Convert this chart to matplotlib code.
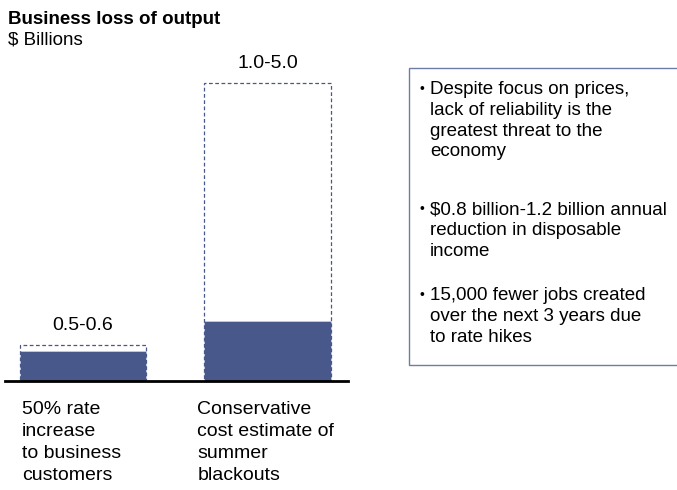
import matplotlib.pyplot as plt
from matplotlib.patches import Rectangle

plt.rcParams['font.family'] = ['Liberation Sans', 'DejaVu Sans']

# Loss estimates, $ billions
categories = ['50% rate\nincrease\nto business\ncustomers',
              'Conservative\ncost estimate of\nsummer\nblackouts']
low_values = [0.5, 1.0]
high_values = [0.6, 5.0]
range_labels = ['0.5-0.6', '1.0-5.0']

bullets = [
    'Despite focus on prices,\nlack of reliability is the\ngreatest threat to the\neconomy',
    '$0.8 billion-1.2 billion annual\nreduction in disposable\nincome',
    '15,000 fewer jobs created\nover the next 3 years due\nto rate hikes',
]

W, H = 677, 490
bar_color = '#48588a'

fig = plt.figure(figsize=(W / 100, H / 100), dpi=100)
fig.set_facecolor('white')

# axes spans the baseline (y=381px) to the top of the tallest range (y=83px)
ax = fig.add_axes([5 / W, (H - 381) / H, 343 / W, (381 - 83) / H])
ax.set_xlim(-0.4228, 1.4363)
ax.set_ylim(0, 5.0)
ax.axis('off')

x = [0, 1]
bw = 0.683
ax.bar(x, low_values, width=bw, color=bar_color, edgecolor='#c8cde0', linewidth=0.6)
ax.bar(x, high_values, width=bw, fill=False, edgecolor=bar_color,
       linestyle=(0, (3, 2)), linewidth=0.9, clip_on=False)
ax.axhline(0, color='black', linewidth=2, clip_on=False)

for xi, hv, lab in zip(x, high_values, range_labels):
    ax.annotate(lab, xy=(xi, hv), xytext=(0, 15), textcoords='offset pixels',
                ha='center', va='baseline', fontsize=14, annotation_clip=False)

label_dx = [2, -7]
for xi, cat, dx in zip(x, categories, label_dx):
    ax.annotate(cat, xy=(xi - bw / 2, 0), xytext=(dx, -20), textcoords='offset pixels',
                ha='left', va='top', fontsize=14, linespacing=1.38,
                annotation_clip=False)

# Title
fig.text(8 / W, 1 - 24 / H, 'Business loss of output', fontsize=13.5,
         fontweight='bold', ha='left', va='baseline')
fig.text(8 / W, 1 - 45 / H, '$ Billions', fontsize=13.5, ha='left', va='baseline')

# Side box with key points
box = Rectangle((409 / W, 1 - 365 / H), 300 / W, (365 - 68) / H,
                transform=fig.transFigure, fill=False, edgecolor='#6f7ca3',
                linewidth=1)
fig.add_artist(box)

bullet_baselines = [95, 215, 301]
for base, txt in zip(bullet_baselines, bullets):
    fig.text(420 / W, 1 - (base - 2) / H, '•', fontsize=10, ha='left', va='baseline')
    fig.text(430 / W, 1 - (base - 14) / H, txt, fontsize=13.5, ha='left', va='top',
             linespacing=1.29)

fig.savefig('out.png', dpi=100)
